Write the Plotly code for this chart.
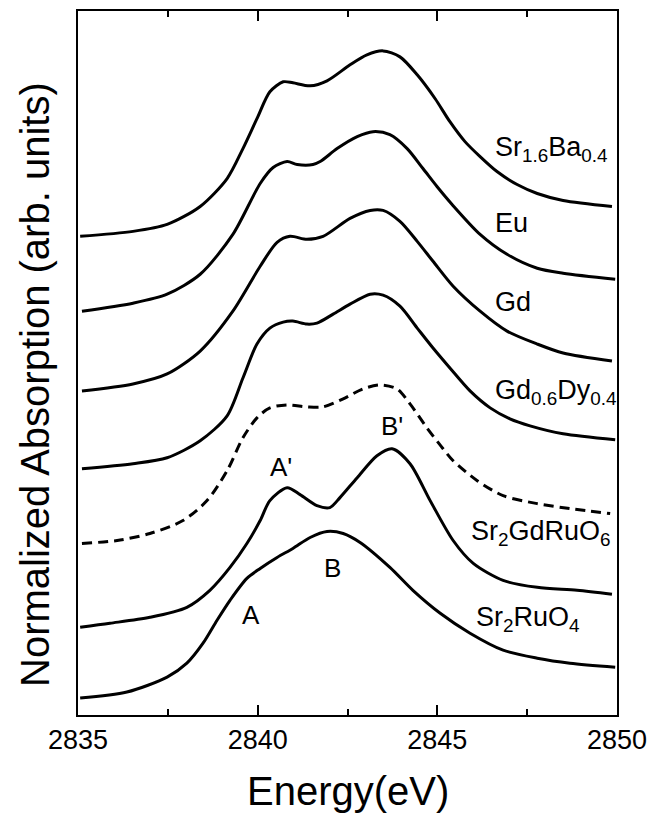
import plotly.graph_objects as go

# Energy (eV) and normalized absorption (arb. units)
e_srba = [2835.06, 2836.53, 2837.48, 2838.40, 2839.15, 2839.59, 2839.98, 2840.34, 2840.71, 2840.98,
          2841.46, 2841.93, 2842.57, 2843.04, 2843.49, 2843.96, 2844.44, 2844.94, 2845.35, 2845.77,
          2846.19, 2846.66, 2847.22, 2847.78, 2848.50, 2849.86]
v_srba = [4.80, 4.85, 4.92, 5.10, 5.38, 5.68, 5.98, 6.25, 6.35, 6.34,
          6.31, 6.36, 6.52, 6.62, 6.66, 6.60, 6.42, 6.18, 5.95, 5.75,
          5.60, 5.45, 5.32, 5.23, 5.16, 5.10]

e_eu = [2835.11, 2836.53, 2837.48, 2838.40, 2839.31, 2840.07, 2840.43, 2840.82, 2841.10, 2841.54,
        2841.74, 2842.21, 2842.77, 2843.21, 2843.68, 2844.16, 2844.60, 2844.99, 2845.41, 2846.19,
        2846.94, 2847.78, 2848.50, 2849.95]
v_eu = [4.05, 4.13, 4.22, 4.42, 4.82, 5.33, 5.49, 5.55, 5.52, 5.52,
        5.55, 5.68, 5.80, 5.85, 5.82, 5.68, 5.48, 5.30, 5.12, 4.82,
        4.62, 4.48, 4.43, 4.37]

e_gd = [2835.11, 2836.53, 2837.48, 2838.40, 2839.31, 2840.07, 2840.54, 2840.90, 2841.37, 2841.82,
        2842.57, 2843.13, 2843.49, 2843.96, 2844.44, 2844.88, 2845.44, 2846.19, 2846.94, 2847.78,
        2848.50, 2849.86]
v_gd = [3.25, 3.32, 3.42, 3.65, 4.05, 4.50, 4.74, 4.80, 4.77, 4.80,
        4.98, 5.06, 5.06, 4.95, 4.75, 4.55, 4.30, 4.05, 3.85, 3.72,
        3.63, 3.55]

e_gddy = [2835.11, 2836.53, 2837.48, 2838.40, 2839.15, 2839.59, 2839.98, 2840.34, 2840.71, 2840.98,
          2841.37, 2841.65, 2842.10, 2842.57, 2843.13, 2843.49, 2843.96, 2844.44, 2844.88, 2845.35,
          2845.91, 2846.47, 2847.02, 2847.58, 2848.50, 2849.95]
v_gddy = [2.47, 2.52, 2.58, 2.75, 3.00, 3.38, 3.72, 3.88, 3.94, 3.95,
          3.92, 3.93, 4.02, 4.12, 4.22, 4.21, 4.10, 3.88, 3.68, 3.48,
          3.25, 3.08, 2.97, 2.90, 2.82, 2.76]

e_dash = [2835.11, 2836.09, 2837.00, 2837.92, 2838.59, 2839.15, 2839.59, 2839.98, 2840.34, 2840.82,
          2841.37, 2841.82, 2842.38, 2842.93, 2843.41, 2843.88, 2844.24, 2844.71, 2845.16, 2845.44,
          2846.11, 2846.83, 2847.78, 2848.69, 2849.81]
v_dash = [1.72, 1.75, 1.82, 1.95, 2.15, 2.45, 2.78, 2.98, 3.08, 3.11,
          3.09, 3.09, 3.17, 3.27, 3.31, 3.27, 3.12, 2.88, 2.67, 2.55,
          2.35, 2.20, 2.12, 2.07, 2.02]

e_gdru = [2835.06, 2835.89, 2837.00, 2838.03, 2838.67, 2839.23, 2839.70, 2840.07, 2840.34, 2840.82,
          2841.18, 2841.65, 2842.01, 2842.29, 2842.77, 2843.32, 2843.74, 2844.24, 2844.80, 2845.44,
          2846.00, 2846.83, 2847.78, 2848.89, 2849.86]
v_gdru = [0.88, 0.92, 0.98, 1.08, 1.25, 1.48, 1.72, 1.95, 2.15, 2.28,
          2.21, 2.10, 2.08, 2.18, 2.38, 2.60, 2.67, 2.52, 2.15, 1.75,
          1.52, 1.35, 1.28, 1.25, 1.21]

e_ru = [2835.06, 2836.36, 2837.48, 2838.03, 2838.48, 2838.87, 2839.23, 2839.70, 2840.07, 2840.54,
        2840.98, 2841.46, 2841.93, 2842.38, 2842.85, 2843.68, 2844.32, 2845.08, 2845.91, 2846.83,
        2847.78, 2848.69, 2849.95]
v_ru = [0.17, 0.23, 0.38, 0.52, 0.72, 0.95, 1.15, 1.37, 1.47, 1.58,
        1.67, 1.78, 1.84, 1.82, 1.73, 1.48, 1.25, 1.02, 0.82, 0.65,
        0.57, 0.52, 0.48]

curve_labels = ["Sr<sub>1.6</sub>Ba<sub>0.4</sub>", "Eu", "Gd", "Gd<sub>0.6</sub>Dy<sub>0.4</sub>",
                "Sr<sub>2</sub>GdRuO<sub>6</sub>", "Sr<sub>2</sub>RuO<sub>4</sub>"]
label_e = [2846.55, 2846.55, 2846.55, 2846.55, 2845.88, 2846.02]
label_v = [5.68, 4.93, 4.14, 3.24, 1.83, 0.96]

peak_labels = ["A'", "B'", "A", "B"]
peak_e = [2840.65, 2843.74, 2839.81, 2842.07]
peak_v = [2.49, 2.90, 1.00, 1.47]

x_ticks = [2835, 2840, 2845, 2850]

FONT = "Liberation Sans, Arial, sans-serif"

fig = go.Figure()
solid = [(e_srba, v_srba), (e_eu, v_eu), (e_gd, v_gd), (e_gddy, v_gddy), (e_gdru, v_gdru), (e_ru, v_ru)]
for ex, vy in solid:
    fig.add_trace(go.Scatter(x=ex, y=vy, mode="lines",
                             line=dict(color="black", width=3, shape="spline", smoothing=0.8),
                             showlegend=False, hoverinfo="skip"))
fig.add_trace(go.Scatter(x=e_dash, y=v_dash, mode="lines",
                         line=dict(color="black", width=3, shape="spline", smoothing=0.8, dash="10px,6px"),
                         showlegend=False, hoverinfo="skip"))

for t, ex, vy in zip(curve_labels, label_e, label_v):
    fig.add_annotation(x=ex, y=vy, text=t, showarrow=False, xanchor="left", yanchor="middle",
                       font=dict(family=FONT, size=27, color="black"))
for t, ex, vy in zip(peak_labels, peak_e, peak_v):
    fig.add_annotation(x=ex, y=vy, text=t, showarrow=False, xanchor="center", yanchor="middle",
                       font=dict(family=FONT, size=26, color="black"))

fig.add_annotation(xref="paper", yref="paper", x=0.5, y=-0.108, text="Energy(eV)", showarrow=False,
                   xanchor="center", yanchor="middle", font=dict(family=FONT, size=40, color="black"))
fig.add_annotation(xref="paper", yref="paper", x=-0.08, y=0.47, text="Normalized Absorption (arb. units)",
                   showarrow=False, textangle=-90, xanchor="center", yanchor="middle",
                   font=dict(family=FONT, size=40, color="black"))

fig.update_xaxes(range=[2835, 2850], tickvals=x_ticks, ticks="inside", ticklen=10, tickwidth=2,
                 tickcolor="black", showline=True, linecolor="black", linewidth=2, mirror="ticks",
                 showgrid=False, zeroline=False,
                 tickfont=dict(family=FONT, size=27, color="black"),
                 minor=dict(dtick=2.5, tick0=2835, ticks="inside", ticklen=6, tickwidth=1.5, tickcolor="black"))
fig.update_yaxes(range=[0, 7.06], showticklabels=False, ticks="", showline=True, linecolor="black",
                 linewidth=2, mirror=True, showgrid=False, zeroline=False)

fig.update_layout(width=653, height=808, margin=dict(l=70, r=44, t=1, b=101),
                  plot_bgcolor="white", paper_bgcolor="white", showlegend=False)

fig.write_html("out.html")
